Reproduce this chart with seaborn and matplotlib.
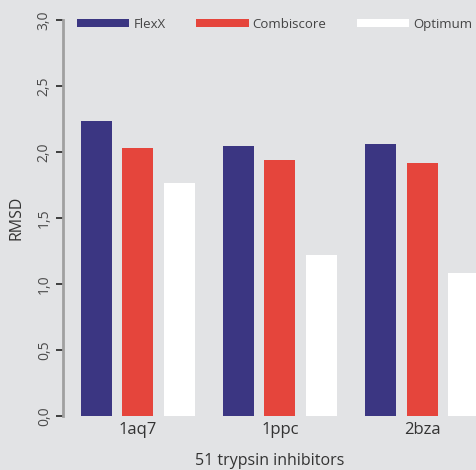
import numpy as np
import pandas as pd
import matplotlib
matplotlib.use('Agg')
import matplotlib.pyplot as plt
import seaborn as sns

# values
inhibitors = ['1aq7', '1ppc', '2bza']
methods = ['FlexX', 'Combiscore', 'Optimum']
flexx = [2.235, 2.05, 2.06]
combiscore = [2.03, 1.94, 1.92]
optimum = [1.765, 1.22, 1.08]
yticks = [0.0, 0.5, 1.0, 1.5, 2.0, 2.5, 3.0]
ytick_labels = ['0,0', '0,5', '1,0', '1,5', '2,0', '2,5', '3,0']
colors = ['#3b3682', '#e5453c', '#ffffff']

df = pd.DataFrame({
    'inhibitor': inhibitors * 3,
    'method': np.repeat(methods, 3),
    'rmsd': flexx + combiscore + optimum,
})

sns.set_style('white')
plt.rcParams['font.family'] = ['Open Sans', 'DejaVu Sans']
bg = '#e2e3e5'

fig = plt.figure(figsize=(4.77, 4.70), dpi=100, facecolor=bg)
ax = fig.add_axes([0.132, 0.115, 0.868, 0.842])
ax.set_facecolor(bg)

sns.barplot(data=df, x='inhibitor', y='rmsd', hue='method',
            palette=colors, width=0.867, gap=0.245, ax=ax,
            errorbar=None, saturation=1, linewidth=0)

ax.set_xlim(-0.528, 2.387)
ax.set_ylim(0, 3.0)
ax.set_yticks(yticks)
ax.set_yticklabels(ytick_labels, rotation=90, va='center', fontsize=10, color='#4a4a4a')
ax.tick_params(axis='y', left=True, direction='out', length=5, width=1.2,
               color='#222222', pad=3)
ax.tick_params(axis='x', length=0, labelsize=12, labelcolor='#333333', pad=4)

for s in ['top', 'right', 'bottom']:
    ax.spines[s].set_visible(False)
ax.spines['left'].set_color('#a0a0a0')
ax.spines['left'].set_linewidth(2)

ax.set_xlabel('51 trypsin inhibitors', fontsize=11.5, color='#333333', labelpad=11)
ax.set_ylabel('RMSD', fontsize=11.5, color='#333333', labelpad=9)

handles, labels = ax.get_legend_handles_labels()
ax.legend(handles, labels, ncol=3, frameon=False, loc='upper left',
          bbox_to_anchor=(0.02, 1.02), fontsize=9.5, labelcolor='#444444',
          handlelength=4.0, handleheight=0.55, handletextpad=0.3,
          columnspacing=2.3, borderaxespad=0)

fig.savefig('out.png', dpi=100, facecolor=bg)
